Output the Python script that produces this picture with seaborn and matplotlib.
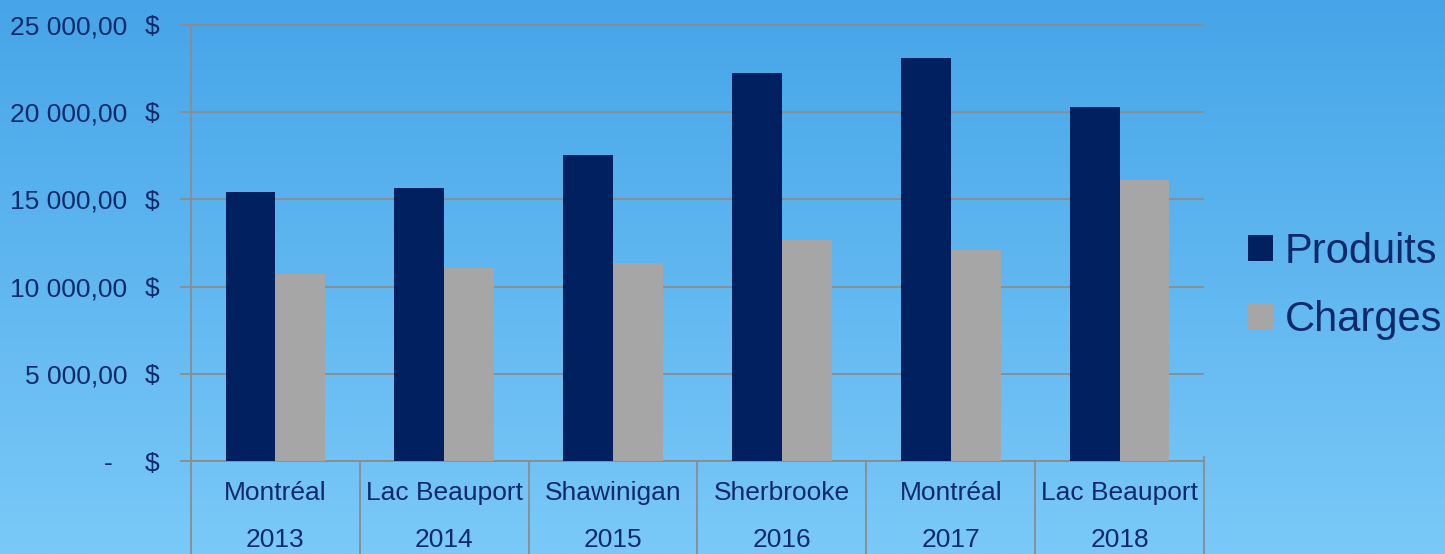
import numpy as np
import pandas as pd
import seaborn as sns
import matplotlib.pyplot as plt
import matplotlib.transforms as mtransforms
from matplotlib.patches import Patch

# ----------- Data ---------------------
villes = ["Montréal", "Lac Beauport", "Shawinigan", "Sherbrooke", "Montréal", "Lac Beauport"]
annees = ["2013", "2014", "2015", "2016", "2017", "2018"]
produits = [15420, 15660, 17520, 22210, 23070, 20280]
charges = [10720, 11070, 11340, 12690, 12110, 16120]
y_ticks = [0, 5000, 10000, 15000, 20000, 25000]
y_labels = ["-  ", "5 000,00", "10 000,00", "15 000,00", "20 000,00", "25 000,00"]

df = pd.DataFrame({
    "annee": annees * 2,
    "serie": ["Produits"] * 6 + ["Charges"] * 6,
    "montant": produits + charges,
})

text_color = "#0f2a6a"
grid_color = "#8c8c8c"
colors = {"Produits": "#002060", "Charges": "#a6a6a6"}

sns.set_theme(style="white")
plt.rcParams["font.family"] = ["Liberation Sans", "DejaVu Sans"]

fig = plt.figure(figsize=(14.45, 5.54), dpi=100)

# ----------- Gradient background ---------------------
bg = fig.add_axes([0, 0, 1, 1], zorder=-10)
grad = np.linspace(0, 1, 256).reshape(-1, 1)
top = np.array([70, 165, 232]) / 255
bottom = np.array([122, 201, 248]) / 255
img = top + (bottom - top) * grad[:, :, None]
bg.imshow(img, aspect="auto", extent=[0, 1, 0, 1])
bg.axis("off")

# ----------- Bar chart ---------------------
ax = fig.add_axes([191 / 1445, 92.8 / 554, 1013 / 1445, 436.5 / 554])
ax.set_facecolor("none")
sns.barplot(data=df, x="annee", y="montant", hue="serie", palette=colors,
            width=0.59, gap=0, saturation=1, linewidth=0, legend=False, ax=ax, zorder=3)

ax.set_xlim(-0.5, 5.5)
ax.set_ylim(0, 25000)
ax.set_yticks(y_ticks)
ax.set_yticklabels(y_labels, fontsize=19, color=text_color)
ax.tick_params(axis="y", length=8, width=1.3, color=grid_color, pad=38, left=True)
ax.grid(axis="y", color=grid_color, linewidth=1.3, zorder=0)
ax.axhline(25000, color=grid_color, linewidth=1.3, clip_on=False, zorder=0)
ax.set_axisbelow(True)
ax.set_xticks([])
ax.set_xlabel("")
ax.set_ylabel("")

for side in ["top", "right"]:
    ax.spines[side].set_visible(False)
for side in ["left", "bottom"]:
    ax.spines[side].set_color(grid_color)
    ax.spines[side].set_linewidth(1.3)

# "$" beside each y value
trans_y = mtransforms.offset_copy(
    mtransforms.blended_transform_factory(ax.transAxes, ax.transData),
    fig=fig, x=-38.5, y=0, units="dots")
for v in y_ticks:
    ax.text(0, v, "$", transform=trans_y, ha="center", va="center_baseline",
            fontsize=19, color=text_color)

# category axis: dividers and two-line labels
trans_x = mtransforms.blended_transform_factory(ax.transData, ax.transAxes)
ax.vlines(np.arange(-0.5, 6, 1), -0.22, 0, transform=trans_x, color=grid_color,
          linewidth=1.3, clip_on=False)
ax.vlines([5.5], 0, 0.012, transform=trans_x, color=grid_color, linewidth=1.3, clip_on=False)
for i, (v, a) in enumerate(zip(villes, annees)):
    ax.text(i, -0.073, v, transform=trans_x, ha="center", va="center",
            fontsize=19, color=text_color)
    ax.text(i, -0.18, a, transform=trans_x, ha="center", va="center",
            fontsize=19, color=text_color)

# ----------- Legend ---------------------
handles = [Patch(facecolor=colors[s], edgecolor="none", label=s) for s in ["Produits", "Charges"]]
fig.legend(handles=handles, loc="center left", bbox_to_anchor=(1248 / 1445, 268 / 554),
           frameon=False, fontsize=30, labelcolor=text_color,
           handlelength=0.6, handleheight=0.6, handletextpad=0.28,
           labelspacing=0.68, borderpad=0, borderaxespad=0)

fig.savefig("out.png", dpi=100)
